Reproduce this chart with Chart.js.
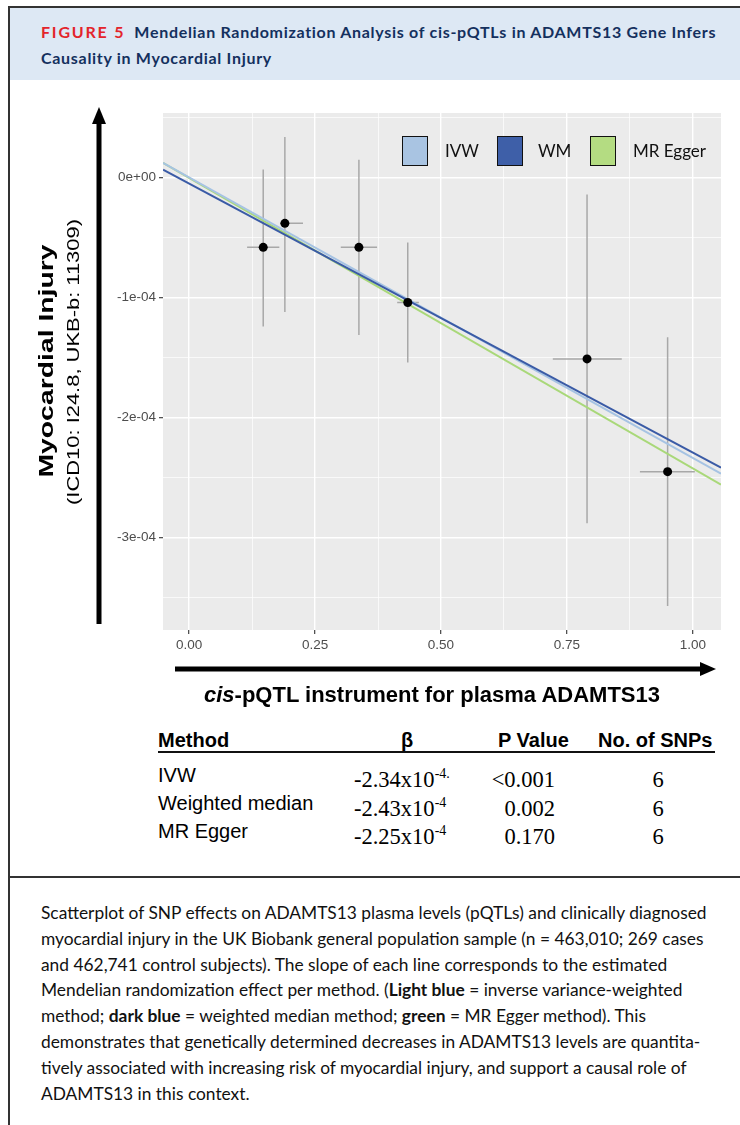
<!DOCTYPE html>
<html>
<head>
<meta charset="utf-8">
<script src="https://cdn.jsdelivr.net/npm/chart.js@4.4.1/dist/chart.umd.min.js"></script>
<style>
  body { margin: 0; width: 740px; height: 1125px; position: relative; background: #fff; overflow: hidden; }
  .abs { position: absolute; white-space: nowrap; }
  .sans { font-family: "Liberation Sans", Arial, sans-serif; }
  .serif { font-family: "Liberation Serif", "Times New Roman", serif; }
  .hdr { font-family: Lato, sans-serif; font-weight: bold; font-size: 16px; line-height: 26px; color: #14305e; letter-spacing: 0.7px; }
  .cap { font-family: Lato, sans-serif; font-size: 17.35px; line-height: 25.8px; color: #111; }
  .box { position: absolute; width: 24px; height: 28px; border: 1.5px solid #111; }
  .leg { font-family: Lato, sans-serif; font-size: 17px; line-height: 20px; color: #111; }
  sup { font-size: 14px; vertical-align: 0; position: relative; top: -9px; }
</style>
</head>
<body>

<!-- frame + header band -->
<div class="abs" style="left:8px;top:6px;width:732px;height:2px;background:#333"></div>
<div class="abs" style="left:8px;top:6px;width:2px;height:1119px;background:#333"></div>
<div class="abs" style="left:10px;top:8px;width:730px;height:72px;background:#dde8f4"></div>
<div class="abs hdr" style="left:41px;top:19px">
  <span style="color:#e3242b;letter-spacing:1.8px;margin-right:9px">FIGURE 5</span>Mendelian Randomization Analysis of cis-pQTLs in ADAMTS13 Gene Infers<br>Causality in Myocardial Injury
</div>

<canvas id="mr" width="740" height="640" style="position:absolute;left:0;top:85px"></canvas>

<!-- axis titles -->
<div class="abs sans" style="left:-104px;top:349px;width:300px;height:24px;line-height:24px;text-align:center;font-weight:bold;font-size:21px;color:#000;transform:rotate(-90deg) scaleX(1.35)">Myocardial Injury</div>
<div class="abs sans" style="left:-76px;top:352px;width:300px;height:20px;line-height:20px;text-align:center;font-size:16px;color:#000;transform:rotate(-90deg) scaleX(1.37)">(ICD10: I24.8, UKB-b: 11309)</div>
<div class="abs sans" style="left:132px;top:684px;width:600px;line-height:1;text-align:center;font-weight:bold;font-size:22px;color:#000"><i>cis</i>-pQTL instrument for plasma ADAMTS13</div>

<!-- legend -->
<div class="box" style="left:402px;top:136px;background:#a9c4e2"></div>
<div class="abs leg" style="left:445px;top:141px">IVW</div>
<div class="box" style="left:497px;top:136px;background:#3e5fa8"></div>
<div class="abs leg" style="left:538px;top:141px">WM</div>
<div class="box" style="left:590px;top:136px;background:#b4dc82"></div>
<div class="abs leg" style="left:633px;top:141px">MR Egger</div>

<!-- results table -->
<div class="abs sans" style="left:158px;top:730px;font-size:20px;line-height:1;font-weight:bold">Method</div>
<div class="abs sans" style="left:397px;top:730px;width:20px;text-align:center;font-size:20px;line-height:1;font-weight:bold">β</div>
<div class="abs sans" style="left:498px;top:730px;font-size:20px;line-height:1;font-weight:bold">P Value</div>
<div class="abs sans" style="left:598px;top:730px;font-size:20px;line-height:1;font-weight:bold">No. of SNPs</div>
<div class="abs" style="left:158px;top:751px;width:557px;height:2px;background:#111"></div>

<div class="abs sans" style="left:158px;top:765px;font-size:20px;line-height:1">IVW</div>
<div class="abs sans" style="left:158px;top:793px;font-size:20px;line-height:1">Weighted median</div>
<div class="abs sans" style="left:158px;top:821px;font-size:20px;line-height:1">MR Egger</div>

<div class="abs serif" style="left:354px;top:769px;font-size:22.5px;line-height:1">-2.34x10<sup>-4.</sup></div>
<div class="abs serif" style="left:354px;top:798px;font-size:22.5px;line-height:1">-2.43x10<sup>-4</sup></div>
<div class="abs serif" style="left:354px;top:826px;font-size:22.5px;line-height:1">-2.25x10<sup>-4</sup></div>

<div class="abs serif" style="left:455px;top:769px;width:100px;text-align:right;font-size:22.5px;line-height:1">&lt;0.001</div>
<div class="abs serif" style="left:455px;top:798px;width:100px;text-align:right;font-size:22.5px;line-height:1">0.002</div>
<div class="abs serif" style="left:455px;top:826px;width:100px;text-align:right;font-size:22.5px;line-height:1">0.170</div>

<div class="abs serif" style="left:638px;top:769px;width:40px;text-align:center;font-size:22.5px;line-height:1">6</div>
<div class="abs serif" style="left:638px;top:798px;width:40px;text-align:center;font-size:22.5px;line-height:1">6</div>
<div class="abs serif" style="left:638px;top:826px;width:40px;text-align:center;font-size:22.5px;line-height:1">6</div>

<!-- caption -->
<div class="abs" style="left:8px;top:876px;width:732px;height:2px;background:#333"></div>
<div class="abs cap" style="left:41px;top:900px">
Scatterplot of SNP effects on ADAMTS13 plasma levels (pQTLs) and clinically diagnosed<br>
myocardial injury in the UK Biobank general population sample (n = 463,010; 269 cases<br>
and 462,741 control subjects). The slope of each line corresponds to the estimated<br>
Mendelian randomization effect per method. (<b>Light blue</b> = inverse variance-weighted<br>
method; <b>dark blue</b> = weighted median method; <b>green</b> = MR Egger method). This<br>
demonstrates that genetically determined decreases in ADAMTS13 levels are quantita-<br>
tively associated with increasing risk of myocardial injury, and support a causal role of<br>
ADAMTS13 in this context.
</div>

<script>
// SNP estimates (x = effect on ADAMTS13, y = effect on myocardial injury)
const snpX = [0.147, 0.190, 0.337, 0.434, 0.790, 0.950];
const snpY = [-0.58e-4, -0.38e-4, -0.58e-4, -1.04e-4, -1.51e-4, -2.45e-4];
const snpYLow = [-1.24e-4, -1.12e-4, -1.31e-4, -1.54e-4, -2.88e-4, -3.57e-4];
const snpYHigh = [0.07e-4, 0.34e-4, 0.15e-4, -0.54e-4, -0.14e-4, -1.33e-4];
const snpXLow = [0.115, 0.181, 0.301, 0.413, 0.722, 0.895];
const snpXHigh = [0.179, 0.226, 0.373, 0.456, 0.859, 1.004];

// fitted MR lines, read at the panel edges
const lineX = [-0.052, 1.056];
const ivwY = [0.125e-4, -2.467e-4];
const wmY = [0.067e-4, -2.417e-4];
const eggerY = [0.125e-4, -2.558e-4];

const xTickValues = [0, 0.25, 0.5, 0.75, 1];
const xTickLabels = ["0.00", "0.25", "0.50", "0.75", "1.00"];
const yTickValues = [0, -1e-4, -2e-4, -3e-4];
const yTickLabels = ["0e+00", "-1e-04", "-2e-04", "-3e-04"];

function findLabel(v, vals, labels, tol) {
  for (let i = 0; i < vals.length; i++) {
    if (Math.abs(v - vals[i]) < tol) return labels[i];
  }
  return "";
}
const isMajorX = v => findLabel(v, xTickValues, xTickLabels, 1e-6) !== "";
const isMajorY = v => findLabel(v, yTickValues, yTickLabels, 1e-9) !== "";

const vBars = [];
const hBars = [];
for (let i = 0; i < snpX.length; i++) {
  vBars.push({ x: snpX[i], y: snpYLow[i] }, { x: snpX[i], y: snpYHigh[i] }, { x: null, y: null });
  hBars.push({ x: snpXLow[i], y: snpY[i] }, { x: snpXHigh[i], y: snpY[i] }, { x: null, y: null });
}
const points = snpX.map((x, i) => ({ x: x, y: snpY[i] }));
const toLine = ys => lineX.map((x, i) => ({ x: x, y: ys[i] }));

const panelBg = {
  id: "panelBg",
  beforeDraw(chart) {
    const { ctx, chartArea: a } = chart;
    ctx.save();
    ctx.fillStyle = "#ebebeb";
    ctx.fillRect(a.left, a.top, a.right - a.left, a.bottom - a.top);
    ctx.restore();
  }
};

// black arrows standing in for the axes
const axisArrows = {
  id: "axisArrows",
  afterDraw(chart) {
    const ctx = chart.ctx;
    ctx.save();
    ctx.fillStyle = "#000";
    ctx.strokeStyle = "#000";
    ctx.lineWidth = 5;
    ctx.beginPath();
    ctx.moveTo(99, 539);
    ctx.lineTo(99, 36);
    ctx.stroke();
    ctx.beginPath();
    ctx.moveTo(99, 22);
    ctx.lineTo(92, 39);
    ctx.lineTo(106, 39);
    ctx.closePath();
    ctx.fill();

    ctx.beginPath();
    ctx.moveTo(175, 584);
    ctx.lineTo(704, 584);
    ctx.stroke();
    ctx.beginPath();
    ctx.moveTo(716, 584);
    ctx.lineTo(700, 577);
    ctx.lineTo(700, 591);
    ctx.closePath();
    ctx.fill();
    ctx.restore();
  }
};

const tickFont = { family: "'Liberation Sans', Arial, sans-serif", size: 13.5 };

new Chart(document.getElementById("mr"), {
  type: "scatter",
  data: {
    datasets: [
      { label: "SNPs", data: points, order: 0, pointRadius: 4.5, backgroundColor: "#000", borderWidth: 0 },
      { label: "WM", data: toLine(wmY), order: 1, showLine: true, borderColor: "#3a5ba6", borderWidth: 2, pointRadius: 0 },
      { label: "IVW", data: toLine(ivwY), order: 2, showLine: true, borderColor: "#a6c3e3", borderWidth: 2, pointRadius: 0 },
      { label: "MR Egger", data: toLine(eggerY), order: 3, showLine: true, borderColor: "#a9d879", borderWidth: 2, pointRadius: 0 },
      { label: "v", data: vBars, order: 4, showLine: true, spanGaps: false, borderColor: "#a8a8a8", borderWidth: 1.5, pointRadius: 0 },
      { label: "h", data: hBars, order: 4, showLine: true, spanGaps: false, borderColor: "#a8a8a8", borderWidth: 1.5, pointRadius: 0 }
    ]
  },
  options: {
    responsive: false,
    devicePixelRatio: 1,
    animation: false,
    events: [],
    layout: { padding: { left: 103, right: 19, top: 28, bottom: 65 } },
    plugins: { legend: { display: false }, tooltip: { enabled: false } },
    scales: {
      x: {
        type: "linear",
        min: -0.052,
        max: 1.056,
        afterFit: s => { s.height = 30; },
        border: { display: false },
        grid: {
          color: "#ffffff",
          lineWidth: c => (isMajorX(c.tick.value) ? 1.4 : 0.7),
          tickColor: c => (isMajorX(c.tick.value) ? "#333" : "rgba(0,0,0,0)"),
          tickWidth: 1.1,
          tickLength: 4
        },
        ticks: {
          stepSize: 0.125,
          includeBounds: false,
          maxTicksLimit: 30,
          autoSkip: false,
          maxRotation: 0,
          padding: 3,
          color: "#4d4d4d",
          font: tickFont,
          callback: v => findLabel(v, xTickValues, xTickLabels, 1e-6)
        }
      },
      y: {
        type: "linear",
        min: -3.77e-4,
        max: 0.54e-4,
        afterFit: s => { s.width = 60; },
        border: { display: false },
        grid: {
          color: "#ffffff",
          lineWidth: c => (isMajorY(c.tick.value) ? 1.4 : 0.7),
          tickColor: c => (isMajorY(c.tick.value) ? "#333" : "rgba(0,0,0,0)"),
          tickWidth: 1.1,
          tickLength: 4
        },
        ticks: {
          stepSize: 0.5e-4,
          includeBounds: false,
          maxTicksLimit: 30,
          autoSkip: false,
          padding: 3,
          color: "#4d4d4d",
          font: tickFont,
          callback: v => findLabel(v, yTickValues, yTickLabels, 1e-9)
        }
      }
    }
  },
  plugins: [panelBg, axisArrows]
});
</script>
</body>
</html>
